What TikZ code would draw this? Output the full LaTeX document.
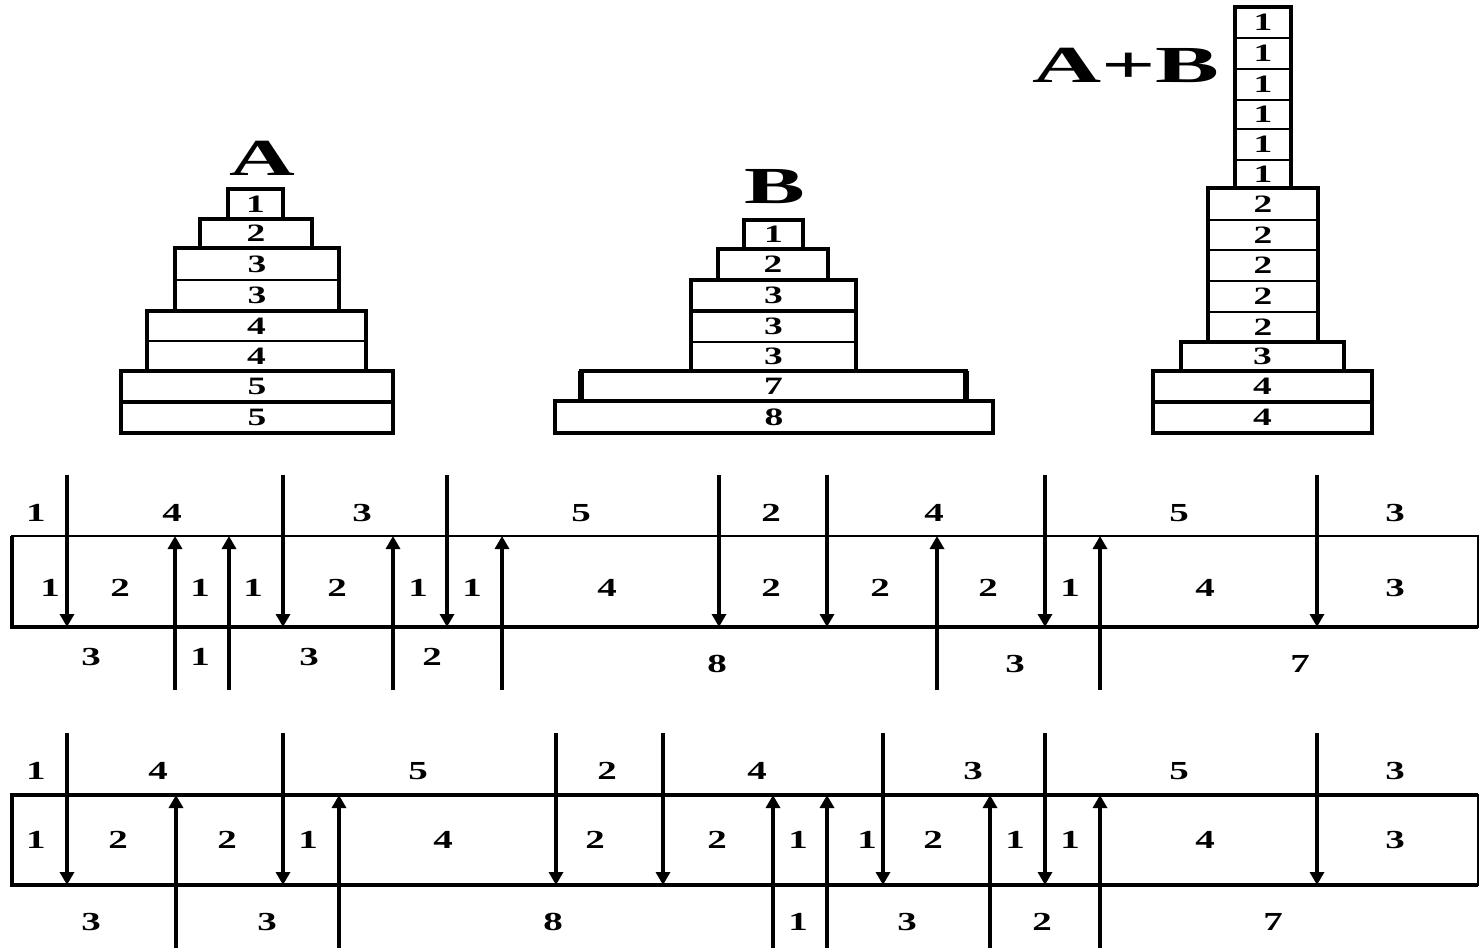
\documentclass[tikz,border=0pt]{standalone}
\usepackage{fontspec}
\setmainfont{Liberation Serif}
\usepackage{graphicx}
\usetikzlibrary{arrows.meta}
\newcommand\sx[1]{\scalebox{1.5}[1]{#1}}
\newcommand\dk[6]{\node[disk,minimum width={(#4-(#2))*0.5pt},minimum height={(#5-(#3))*0.5pt}] (#1) at ({(#2+#4)/2},{(#3+#5)/2}) {\sx{#6}};}
\tikzset{
 disk/.style={draw, line width=0.9pt, inner sep=0pt, outer sep=0pt, font=\bfseries\fontsize{12.5}{12.5}\selectfont},
 grp/.style={line width=1.8pt},
 dig/.style={inner sep=0pt, font=\bfseries\fontsize{13}{13}\selectfont},
 big/.style={inner sep=0pt, font=\bfseries\fontsize{26}{26}\selectfont},
 strip/.style={draw, line width=1.1pt, inner sep=0pt, outer sep=0pt},
 stripedge/.style={line width=1.8pt},
 arr/.style={line width=1.7pt, -{Triangle[width=7pt,length=6.5pt]}},
}
\begin{document}
\begin{tikzpicture}[x=0.5pt,y=-0.5pt]
\useasboundingbox (0,0) rectangle (1479,949);
% ---- stack A
\node[big] (labA) at (262,158) {\scalebox{1.75}[1]{A}};
\dk{a1}{228}{189}{283}{219}{1}
\dk{a2}{200}{219}{312}{248}{2}
\dk{a3}{175}{248}{339}{280}{3}
\dk{a4}{175}{280}{339}{311}{3}
\dk{a5}{147}{311}{366}{341}{4}
\dk{a6}{147}{341}{366}{371}{4}
\dk{a7}{121}{371}{393}{402}{5}
\dk{a8}{121}{402}{393}{433}{5}
\draw[grp] (a1.north west) rectangle (a1.south east);
\draw[grp] (a2.north west) rectangle (a2.south east);
\draw[grp] (a3.north west) rectangle (a4.south east);
\draw[grp] (a5.north west) rectangle (a6.south east);
\draw[grp] (a7.north west) rectangle (a7.south east);
\draw[grp] (a8.north west) rectangle (a8.south east);
% ---- stack B
\node[big] (labB) at (775,187) {\scalebox{1.75}[1]{B}};
\dk{b1}{744}{220}{803}{249}{1}
\dk{b2}{718}{249}{828}{280}{2}
\dk{b3}{691}{280}{856}{311}{3}
\dk{b4}{691}{311}{856}{342}{3}
\dk{b5}{691}{342}{856}{371}{3}
\dk{b6}{581}{371}{966}{401}{7}
\dk{b7}{555}{401}{993}{433}{8}
\draw[grp] (b1.north west) rectangle (b1.south east);
\draw[grp] (b2.north west) rectangle (b2.south east);
\draw[grp] (b3.north west) rectangle (b3.south east);
\draw[grp] (b4.north west) rectangle (b5.south east);
\draw[grp] (b6.north west) rectangle (b6.south east);
\draw[grp] (b7.north west) rectangle (b7.south east);
\draw[line width=2.8pt] (b6.north west) -- (b6.south west);
\draw[line width=2.8pt] (b6.north east) -- (b6.south east);
% ---- stack A+B
\node[big] (labAB) at (1126,65) {\scalebox{1.84}[1]{A+B}};
\dk{c1}{1235}{7}{1291}{38}{1}
\dk{c2}{1235}{38}{1291}{69}{1}
\dk{c3}{1235}{69}{1291}{100}{1}
\dk{c4}{1235}{100}{1291}{129}{1}
\dk{c5}{1235}{129}{1291}{160}{1}
\dk{c6}{1235}{160}{1291}{188}{1}
\dk{c7}{1208}{188}{1318}{220}{2}
\dk{c8}{1208}{220}{1318}{250}{2}
\dk{c9}{1208}{250}{1318}{281}{2}
\dk{c10}{1208}{281}{1318}{312}{2}
\dk{c11}{1208}{312}{1318}{342}{2}
\dk{c12}{1181}{342}{1344}{371}{3}
\dk{c13}{1153}{371}{1372}{402}{4}
\dk{c14}{1153}{402}{1372}{433}{4}
\draw[grp] (c1.north west) rectangle (c6.south east);
\draw[grp] (c7.north west) rectangle (c11.south east);
\draw[grp] (c12.north west) rectangle (c12.south east);
\draw[grp] (c13.north west) rectangle (c13.south east);
\draw[grp] (c14.north west) rectangle (c14.south east);
% ---- strip 1
\node[strip, minimum width={(1478-12)*0.5pt}, minimum height={(627-536)*0.5pt}] (s1) at (745,581.5) {};
\draw[stripedge] (s1.north west) |- (s1.south east);
\foreach \x [count=\i] in {67,283,447,719,827,1045,1317} {
  \coordinate (s1d\i) at (\x,475);
  \draw[arr] (s1d\i) -- (s1d\i |- s1.south);
}
\foreach \x [count=\i] in {175,229,393,502,937,1100} {
  \coordinate (s1u\i) at (\x,690);
  \draw[arr] (s1u\i) -- (s1u\i |- s1.north);
}
\foreach \x/\t [count=\i] in {36/1,172/4,362/3,581/5,771/2,934/4,1179/5,1395/3}
  \node[dig] (s1t\i) at (\x,513) {\sx{\t}};
\foreach \x/\t [count=\i] in {50/1,120/2,200/1,253/1,337/2,418/1,472/1,607/4,771/2,880/2,988/2,1070/1,1205/4,1395/3}
  \node[dig] (s1m\i) at (\x,588) {\sx{\t}};
\foreach \x/\y/\t [count=\i] in {91/657/3,200/657/1,309/657/3,432/657/2,717/664/8,1015/664/3,1300/664/7}
  \node[dig] (s1b\i) at (\x,\y) {\sx{\t}};
% ---- strip 2
\node[strip, minimum width={(1478-12)*0.5pt}, minimum height={(885-795)*0.5pt}] (s2) at (745,840) {};
\draw[stripedge] (s2.south east) -| (s2.north west) -- (s2.north east);
\foreach \x [count=\i] in {67,283,556,663,883,1045,1317} {
  \coordinate (s2d\i) at (\x,733);
  \draw[arr] (s2d\i) -- (s2d\i |- s2.south);
}
\foreach \x [count=\i] in {176,339,773,827,990,1100} {
  \coordinate (s2u\i) at (\x,948);
  \draw[arr] (s2u\i) -- (s2u\i |- s2.north);
}
\foreach \x/\t [count=\i] in {36/1,158/4,418/5,607/2,757/4,973/3,1179/5,1395/3}
  \node[dig] (s2t\i) at (\x,771) {\sx{\t}};
\foreach \x/\t [count=\i] in {36/1,118/2,227/2,308/1,443/4,595/2,717/2,798/1,867/1,933/2,1015/1,1070/1,1205/4,1395/3}
  \node[dig] (s2m\i) at (\x,840) {\sx{\t}};
\foreach \x/\t [count=\i] in {91/3,267/3,553/8,798/1,907/3,1042/2,1273/7}
  \node[dig] (s2b\i) at (\x,922) {\sx{\t}};
\end{tikzpicture}
\end{document}
